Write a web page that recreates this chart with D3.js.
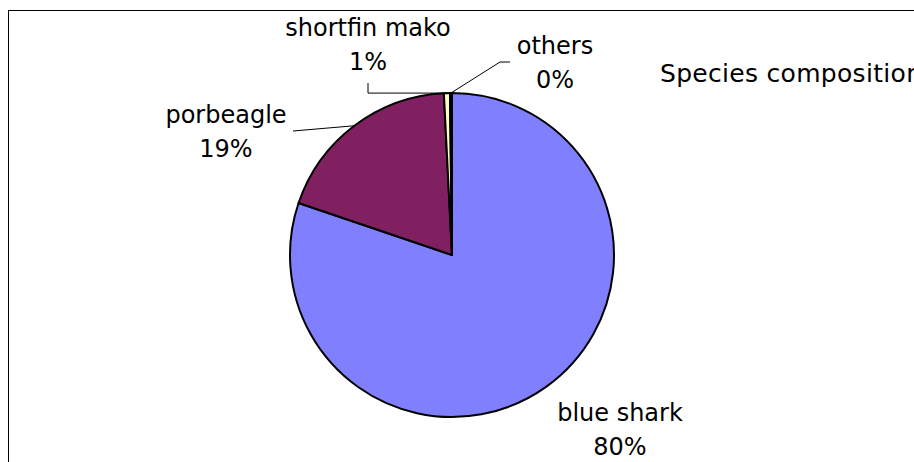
<!DOCTYPE html>
<html>
<head>
<meta charset="utf-8">
<script src="https://cdn.jsdelivr.net/npm/d3@7"></script>
<style>
  html, body { margin: 0; padding: 0; background: #fff; overflow: hidden; }
  svg { display: block; }
  text { font-family: "DejaVu Sans", sans-serif; font-size: 24px; fill: #000; }
</style>
</head>
<body>
<svg id="chart" width="914" height="462"></svg>
<script>
// ---- data ----
const categories = ["blue shark", "porbeagle", "shortfin mako", "others"];
const shares = [80.2, 19.0, 0.6, 0.2];
const colors = ["#8080FF", "#802060", "#FFFFC0", "#A0E0E0"];
const chartTitle = "Species composition";

// ---- layout (not data) ----
const W = 914, H = 462;
const cx = 452, cy = 255, R = 162;
const lineGap = 34;
// label block: centre x and first baseline; leader: where it meets the label
const labelLayout = [
  { x: 620, y: 421, leader: null },
  { x: 226, y: 123, leader: { type: "straight", x: 293, y: 131 } },
  { x: 368, y: 36,  leader: { type: "elbowDown", x: 368, y: 83 } },
  { x: 555, y: 54,  leader: { type: "elbowRight", x: 510, y: 62, bend: 500 } }
];

const svg = d3.select("#chart");

// outer frame (clipped by the window at right/bottom)
svg.append("rect")
  .attr("x", 8.5).attr("y", 10.5)
  .attr("width", W + 20).attr("height", H + 20)
  .attr("fill", "none").attr("stroke", "#000").attr("stroke-width", 1);

const data = categories.map((c, i) => ({ name: c, value: shares[i], color: colors[i] }));
const total = d3.sum(shares);

const pie = d3.pie().value(d => d.value).sort(null).startAngle(0).endAngle(2 * Math.PI);
const arcs = pie(data);
const arc = d3.arc().innerRadius(0).outerRadius(R);

const g = svg.append("g").attr("transform", `translate(${cx},${cy})`);
g.selectAll("path.slice")
  .data(arcs)
  .join("path")
  .attr("class", "slice")
  .attr("d", arc)
  .attr("fill", d => d.data.color)
  .attr("stroke", "#000")
  .attr("stroke-width", 2)
  .attr("stroke-linejoin", "round");

const pct = d3.format(".0%");

// rim point at mid angle (absolute coords)
function rimPoint(d) {
  const a = (d.startAngle + d.endAngle) / 2;
  return [cx + R * Math.sin(a), cy - R * Math.cos(a)];
}

const leaders = svg.append("g").attr("fill", "none").attr("stroke", "#000").attr("stroke-width", 1);
arcs.forEach((d, i) => {
  const L = labelLayout[i].leader;
  if (!L) return;
  const [rx, ry] = rimPoint(d);
  let pts;
  if (L.type === "straight") pts = [[L.x, L.y], [rx, ry]];
  else if (L.type === "elbowDown") pts = [[L.x, L.y], [L.x, ry], [rx, ry]];
  else pts = [[rx, ry], [L.bend, L.y], [L.x, L.y]];
  leaders.append("path").attr("d", d3.line()(pts));
});

const labels = svg.append("g");
arcs.forEach((d, i) => {
  const lay = labelLayout[i];
  const t = labels.append("text").attr("text-anchor", "middle");
  t.append("tspan").attr("x", lay.x).attr("y", lay.y).text(d.data.name);
  t.append("tspan").attr("x", lay.x).attr("y", lay.y + lineGap).text(pct(d.data.value / total));
});

// title: in the reference it runs past the right edge of the image
svg.append("text")
  .attr("x", 660).attr("y", 82)
  .style("font-size", "25px")
  .style("letter-spacing", "0.3px")
  .text(chartTitle);
</script>
</body>
</html>
